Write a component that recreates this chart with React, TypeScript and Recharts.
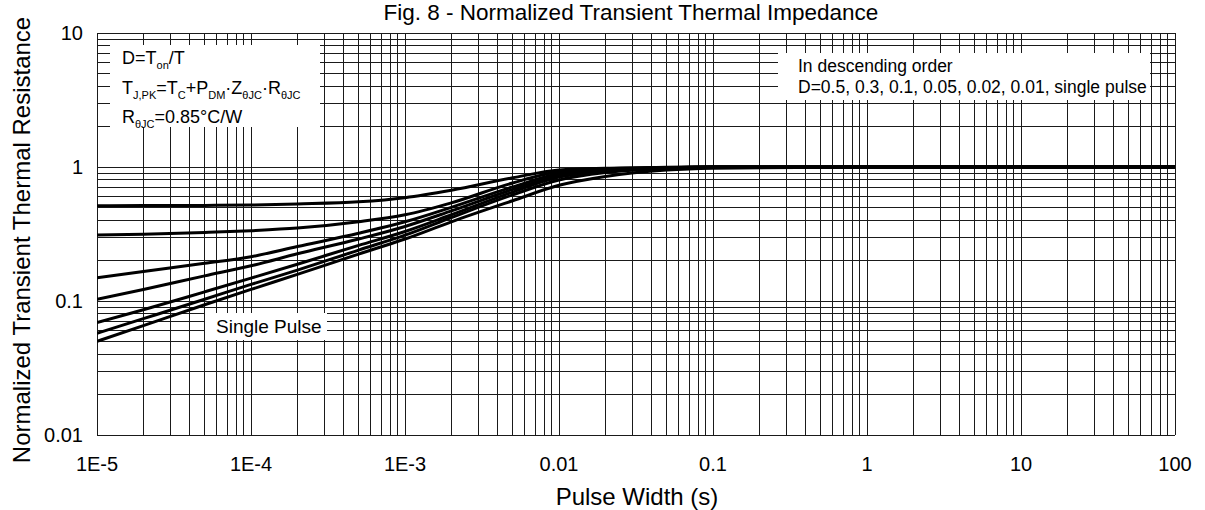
import React from 'react'
import { LineChart, Line, XAxis, YAxis, ReferenceLine } from 'recharts'

const pulseWidth = [1e-5, 2e-5, 5e-5, 1e-4, 2e-4, 5e-4, 1e-3, 2e-3, 5e-3, 0.01, 0.02, 0.05, 0.1, 1, 10, 100]

const zD050 = [0.514, 0.515, 0.517, 0.52, 0.53, 0.55, 0.59, 0.67, 0.83, 0.95, 0.98, 0.995, 1, 1, 1, 1]
const zD030 = [0.311, 0.315, 0.325, 0.335, 0.35, 0.39, 0.44, 0.54, 0.76, 0.92, 0.97, 0.99, 1, 1, 1, 1]
const zD010 = [0.149, 0.166, 0.191, 0.214, 0.255, 0.32, 0.39, 0.5, 0.71, 0.89, 0.95, 0.99, 1, 1, 1, 1]
const zD005 = [0.103, 0.122, 0.154, 0.183, 0.225, 0.29, 0.36, 0.47, 0.68, 0.86, 0.94, 0.985, 1, 1, 1, 1]
const zD002 = [0.069, 0.086, 0.117, 0.148, 0.188, 0.26, 0.33, 0.44, 0.65, 0.84, 0.93, 0.98, 1, 1, 1, 1]
const zD001 = [0.0574, 0.0738, 0.103, 0.133, 0.17, 0.24, 0.31, 0.42, 0.62, 0.8, 0.91, 0.975, 0.995, 1, 1, 1]
const zSingle = [0.05, 0.0655, 0.0937, 0.122, 0.158, 0.224, 0.29, 0.39, 0.56, 0.73, 0.85, 0.95, 0.98, 1, 1, 1]

const xTicks = [1e-5, 1e-4, 1e-3, 0.01, 0.1, 1, 10, 100]
const xTickLabels = ['1E-5', '1E-4', '1E-3', '0.01', '0.1', '1', '10', '100']
const yTicks = [0.01, 0.1, 1, 10]
const yTickLabels = ['0.01', '0.1', '1', '10']
const mantissas = [1, 2, 3, 4, 5, 6, 7, 8, 9]

const gridX = xTicks.slice(0, -1).flatMap(d => mantissas.map(m => m * d)).concat([100])
const gridY = yTicks.slice(0, -1).flatMap(d => mantissas.map(m => m * d)).concat([10])

const series = [zD050, zD030, zD010, zD005, zD002, zD001, zSingle].map(vals =>
  pulseWidth.map((t, i) => ({ t, z: vals[i] }))
)

const FONT = '"Liberation Sans", Arial, Helvetica, sans-serif'
const GRID = '#1a1a1a'

const Sub = ({ children }: { children: React.ReactNode }) => (
  <span style={{ fontSize: 11, position: 'relative', top: 5 }}>{children}</span>
)

const boxLine = (top: number, left: number, size: number) => ({
  position: 'absolute' as const,
  top,
  left,
  fontSize: size,
  lineHeight: `${size}px`,
  whiteSpace: 'nowrap' as const,
  color: '#000',
})

export default function App() {
  return (
    <div style={{ position: 'absolute', left: 0, top: 0, width: 1205, height: 510, background: '#fff', fontFamily: FONT }}>
      <LineChart
        width={1205}
        height={510}
        margin={{ top: 33, right: 30, bottom: 45, left: 0 }}
      >
        <XAxis
          dataKey="t"
          type="number"
          scale="log"
          domain={[1e-5, 100]}
          allowDataOverflow
          ticks={xTicks}
          tickFormatter={(v: number) => xTickLabels[xTicks.findIndex(x => Math.abs(Math.log10(x) - Math.log10(v)) < 1e-6)]}
          tick={{ fill: '#000', fontSize: 20, fontFamily: FONT }}
          axisLine={false}
          tickLine={false}
          tickMargin={16}
          height={30}
          interval={0}
        />
        <YAxis
          dataKey="z"
          type="number"
          scale="log"
          domain={[0.01, 10]}
          allowDataOverflow
          ticks={yTicks}
          tickFormatter={(v: number) => yTickLabels[yTicks.findIndex(y => Math.abs(Math.log10(y) - Math.log10(v)) < 1e-6)]}
          tick={{ fill: '#000', fontSize: 20, fontFamily: FONT }}
          axisLine={false}
          tickLine={false}
          tickMargin={8}
          width={97}
          interval={0}
        />
        {gridX.map(v => (
          <ReferenceLine key={'gx' + v} x={v} stroke={GRID} strokeWidth={1} shapeRendering="crispEdges" />
        ))}
        {gridY.map(v => (
          <ReferenceLine key={'gy' + v} y={v} stroke={GRID} strokeWidth={1} shapeRendering="crispEdges" />
        ))}
        {series.map((d, i) => (
          <Line
            key={i}
            data={d}
            dataKey="z"
            type="monotone"
            stroke="#000"
            strokeWidth={3}
            dot={false}
            activeDot={false}
            isAnimationActive={false}
          />
        ))}
      </LineChart>

      {/* title and axis titles */}
      <div style={{ position: 'absolute', left: 0, width: 1262, top: 1, textAlign: 'center', fontSize: 22.5, lineHeight: '24px' }}>
        Fig. 8 - Normalized Transient Thermal Impedance
      </div>
      <div style={{ position: 'absolute', left: 0, width: 1274, top: 484, textAlign: 'center', fontSize: 24, lineHeight: '26px' }}>
        Pulse Width (s)
      </div>
      <div
        style={{
          position: 'absolute',
          left: 22,
          top: 240,
          fontSize: 24,
          lineHeight: '26px',
          whiteSpace: 'nowrap',
          transform: 'translate(-50%, -50%) rotate(-90deg)',
        }}
      >
        Normalized Transient Thermal Resistance
      </div>

      {/* formula box */}
      <div style={{ position: 'absolute', left: 110, top: 45, width: 210, height: 82, background: '#fff' }} />
      <div style={boxLine(49, 122, 18)}>
        D=T<Sub>on</Sub>/T
      </div>
      <div style={boxLine(79, 122, 18)}>
        T<Sub>J,PK</Sub>=T<Sub>C</Sub>+P<Sub>DM</Sub>·Z<Sub>θJC</Sub>·R<Sub>θJC</Sub>
      </div>
      <div style={boxLine(108, 122, 18)}>
        R<Sub>θJC</Sub>=0.85°C/W
      </div>

      {/* order box */}
      <div style={{ position: 'absolute', left: 778, top: 53, width: 372, height: 47, background: '#fff' }} />
      <div style={boxLine(58, 798, 17.5)}>In descending order</div>
      <div style={boxLine(79, 798, 17.5)}>D=0.5, 0.3, 0.1, 0.05, 0.02, 0.01, single pulse</div>

      {/* single pulse tag */}
      <div style={{ position: 'absolute', left: 205, top: 313, width: 122, height: 27, background: '#fff' }} />
      <div style={boxLine(317, 216, 19)}>Single Pulse</div>
    </div>
  )
}
